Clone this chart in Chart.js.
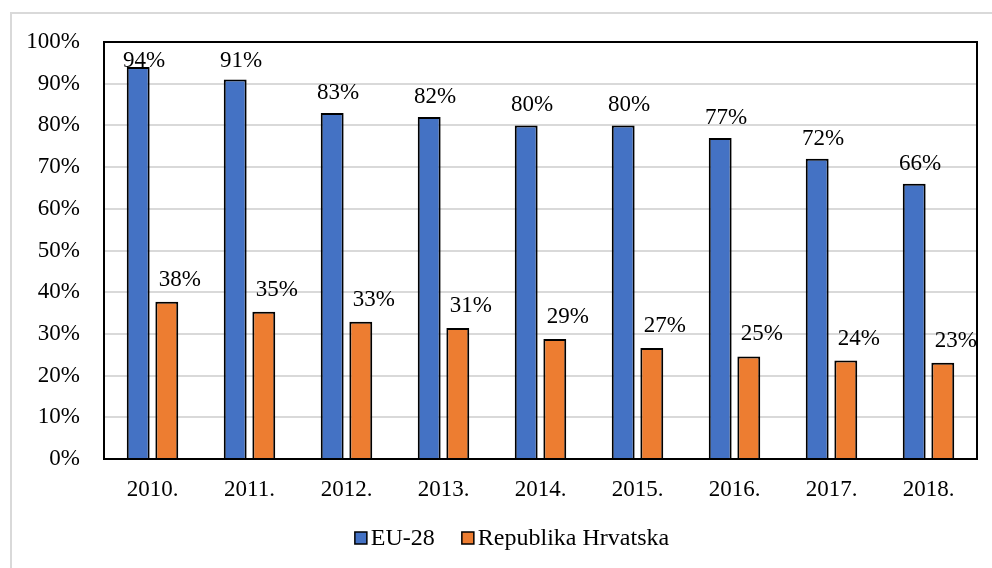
<!DOCTYPE html>
<html>
<head>
<meta charset="utf-8">
<script src="https://cdn.jsdelivr.net/npm/chart.js@4/dist/chart.umd.min.js"></script>
<style>
html,body{margin:0;padding:0;background:#fff;}
#wrap{position:relative;width:992px;height:568px;}
canvas{display:block;}
</style>
</head>
<body>
<div id="wrap"><canvas id="c" width="992" height="568"></canvas></div>
<script>
const categories = ['2010.','2011.','2012.','2013.','2014.','2015.','2016.','2017.','2018.'];
const euValues = [94, 91, 83, 82, 80, 80, 77, 72, 66];
const hrValues = [37.7, 35.3, 32.9, 31.4, 28.8, 26.6, 24.6, 23.6, 23.1];
const seriesNames = ['EU-28', 'Republika Hrvatska'];
const yTicks = [0,10,20,30,40,50,60,70,80,90,100];

const FONT = 'Liberation Serif, Times New Roman, serif';
const FS = 23;

const framePlugin = {
  id: 'frame',
  beforeDraw(chart) {
    const ctx = chart.ctx;
    ctx.save();
    ctx.fillStyle = '#fff';
    ctx.fillRect(0,0,chart.width,chart.height);
    ctx.strokeStyle = '#d9d9d9';
    ctx.lineWidth = 2;
    ctx.strokeRect(11, 13, chart.width + 20, chart.height + 20);
    ctx.restore();
  },
  afterDatasetsDraw(chart) {
    const ctx = chart.ctx;
    const a = chart.chartArea;
    ctx.save();
    ctx.strokeStyle = '#000';
    ctx.lineWidth = 2;
    ctx.strokeRect(a.left, a.top, a.right - a.left, a.bottom - a.top);
    ctx.fillStyle = '#000';
    ctx.font = FS + 'px ' + FONT;
    ctx.textAlign = 'center';
    ctx.textBaseline = 'alphabetic';
    chart.data.datasets.forEach((ds, di) => {
      const meta = chart.getDatasetMeta(di);
      meta.data.forEach((el, i) => {
        const v = ds.data[i];
        const txt = Math.round(v) + '%';
        let x, y;
        if (di === 0) {
          x = el.x + 6;
          y = Math.max(el.y - 14, a.top + 25);
        } else {
          x = el.x + 13;
          y = el.y - 16;
        }
        ctx.fillText(txt, x, y);
      });
    });
    ctx.restore();
  },
  afterDraw(chart) {
    const ctx = chart.ctx;
    ctx.save();
    ctx.font = '24px ' + FONT;
    ctx.textBaseline = 'middle';
    ctx.textAlign = 'left';
    const cy = 538;
    const box = 12, gap = 4, itemGap = 27;
    const items = chart.data.datasets.map(ds => ({ text: ds.label, color: ds.backgroundColor }));
    let total = 0;
    items.forEach((it, i) => { total += box + gap + ctx.measureText(it.text).width + (i < items.length - 1 ? itemGap : 0); });
    let x = 512 - total / 2;
    items.forEach(it => {
      ctx.fillStyle = it.color;
      ctx.fillRect(x, cy - box / 2, box, box);
      ctx.strokeStyle = '#000';
      ctx.lineWidth = 1.5;
      ctx.strokeRect(x, cy - box / 2, box, box);
      ctx.fillStyle = '#000';
      ctx.fillText(it.text, x + box + gap, cy + 1);
      x += box + gap + ctx.measureText(it.text).width + itemGap;
    });
    ctx.restore();
  }
};

new Chart(document.getElementById('c'), {
  type: 'bar',
  data: {
    labels: categories,
    datasets: [
      { label: seriesNames[0], data: euValues, backgroundColor: '#4472C4', borderColor: '#000', borderWidth: 2,
        categoryPercentage: 0.59, barPercentage: 0.8 },
      { label: seriesNames[1], data: hrValues, backgroundColor: '#ED7D31', borderColor: '#000', borderWidth: 2,
        categoryPercentage: 0.59, barPercentage: 0.8 }
    ]
  },
  options: {
    responsive: false,
    animation: false,
    devicePixelRatio: 1,
    layout: { padding: { left: 0, top: 42, right: 15, bottom: 66 } },
    plugins: {
      tooltip: { enabled: false },
      legend: { display: false }
    },
    scales: {
      x: {
        grid: { display: false, drawTicks: false },
        border: { display: false },
        ticks: { color: '#000', font: { family: FONT, size: FS }, padding: 17, maxRotation: 0 },
        afterFit(scale) { scale.height = 43; }
      },
      y: {
        min: 0, max: 100,
        afterBuildTicks(scale) { scale.ticks = yTicks.map(v => ({ value: v })); },
        grid: { color: '#d9d9d9', lineWidth: 2, drawTicks: false },
        border: { display: false },
        ticks: { color: '#000', font: { family: FONT, size: FS }, padding: 24,
          callback: v => v + '%' },
        afterFit(scale) { scale.width = 104; }
      }
    }
  },
  plugins: [framePlugin]
});
</script>
</body>
</html>
